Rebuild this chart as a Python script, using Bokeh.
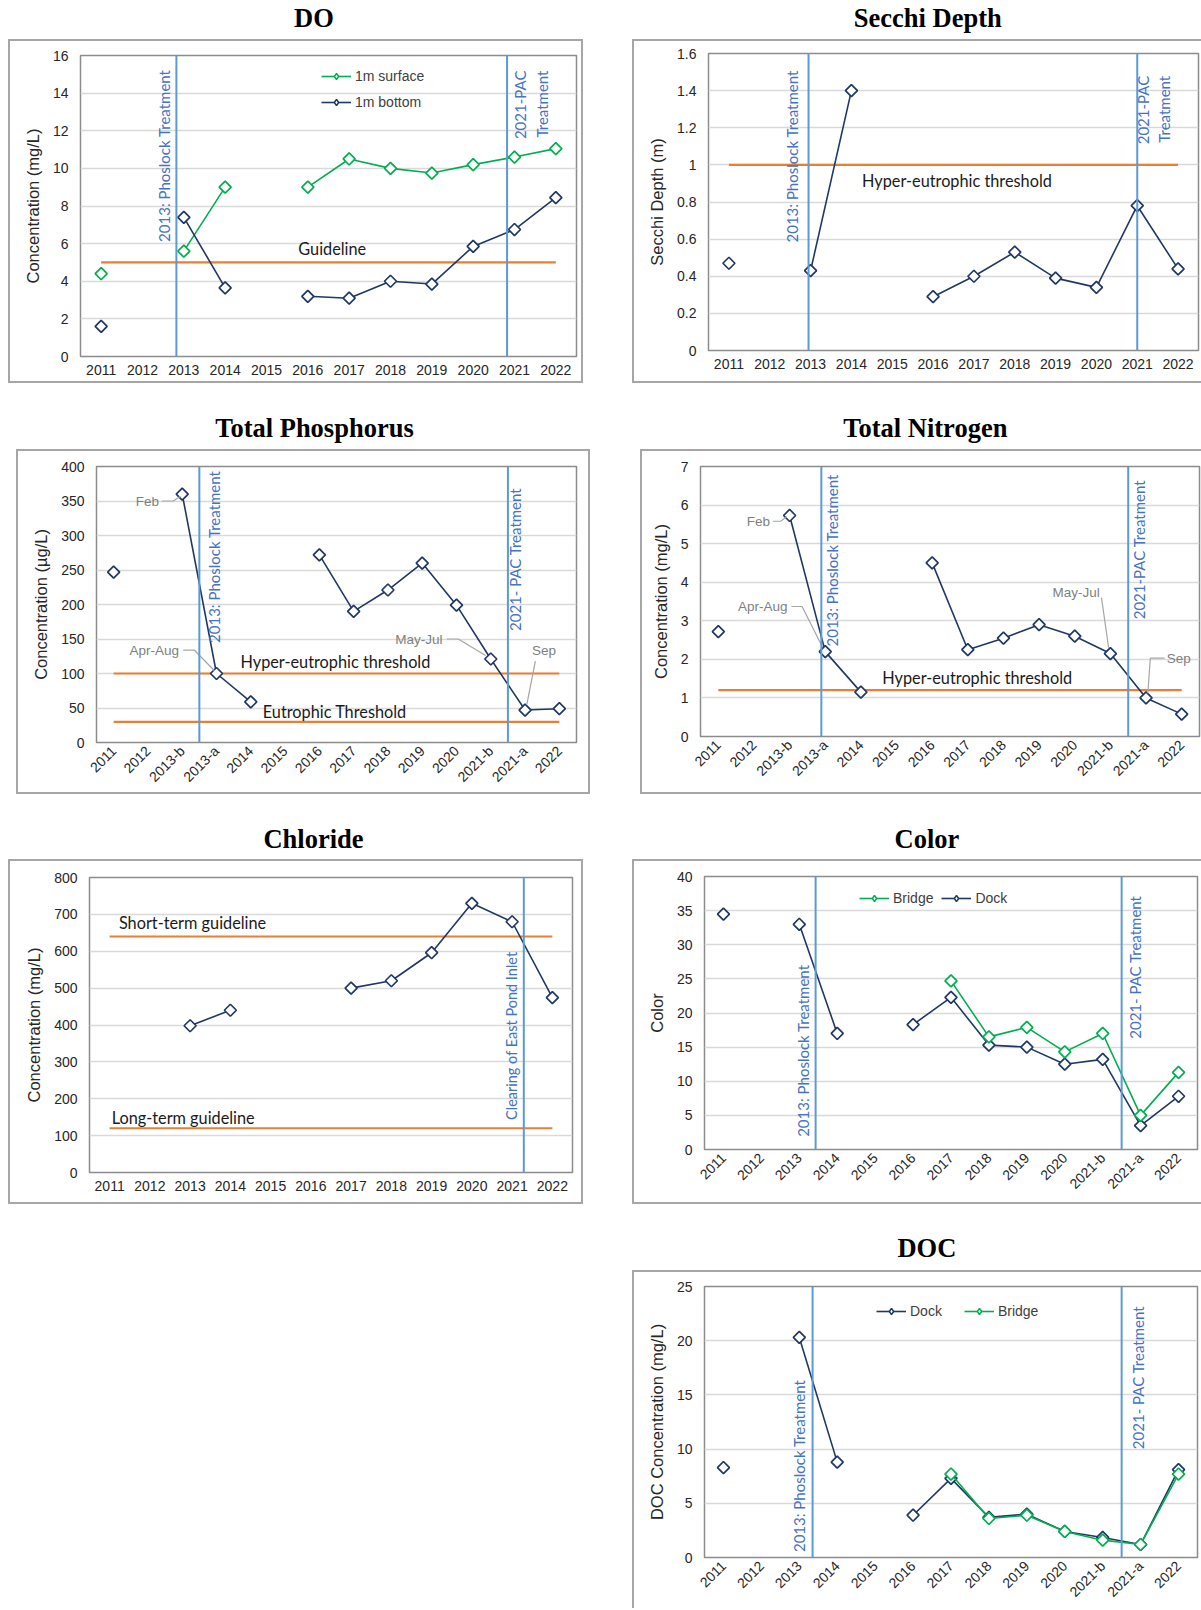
import math
from bokeh.plotting import figure
from bokeh.models import (FactorRange, Range1d, Span, Legend, LegendItem, FixedTicker,
                          Spacer, ColumnDataSource)
from bokeh.layouts import row, column
from bokeh.core.properties import value
from bokeh.embed import file_html
from bokeh.resources import INLINE

nan = float("nan")

# ---------------- data ----------------
YEARS = ["2011", "2012", "2013", "2014", "2015", "2016", "2017", "2018", "2019", "2020", "2021", "2022"]
SPLIT_CATS = ["2011", "2012", "2013-b", "2013-a", "2014", "2015", "2016", "2017", "2018", "2019",
              "2020", "2021-b", "2021-a", "2022"]
LATE_CATS = ["2011", "2012", "2013", "2014", "2015", "2016", "2017", "2018", "2019", "2020",
             "2021-b", "2021-a", "2022"]

DO_SURFACE = [4.4, nan, 5.6, 9.0, nan, 9.0, 10.5, 10.0, 9.75, 10.2, 10.6, 11.05]
DO_BOTTOM = [1.6, nan, 7.4, 3.65, nan, 3.2, 3.1, 4.0, 3.85, 5.85, 6.75, 8.45]
DO_GUIDELINE = 5.0
DO_TICKS = [0, 2, 4, 6, 8, 10, 12, 14, 16]

SECCHI = [0.47, nan, 0.43, 1.40, nan, 0.29, 0.40, 0.53, 0.39, 0.34, 0.78, 0.44]
SECCHI_THRESHOLD = 1.0
SECCHI_TICKS = [0, 0.2, 0.4, 0.6, 0.8, 1.0, 1.2, 1.4, 1.6]

TP = [247, nan, 360, 100, 59, nan, 272, 190, 221, 260, 199, 121, 47, 49]
TP_HYPER = 100
TP_EUTRO = 30
TP_TICKS = [0, 50, 100, 150, 200, 250, 300, 350, 400]

TN = [2.72, nan, 5.73, 2.2, 1.15, nan, 4.5, 2.25, 2.55, 2.9, 2.6, 2.15, 1.0, 0.58]
TN_HYPER = 1.2
TN_TICKS = [0, 1, 2, 3, 4, 5, 6, 7]

CHLORIDE = [nan, nan, 398, 440, nan, nan, 500, 520, 596, 730, 680, 474]
CL_SHORT = 640
CL_LONG = 120
CL_TICKS = [0, 100, 200, 300, 400, 500, 600, 700, 800]

COLOR_DOCK = [34.5, nan, 33.0, 17.0, nan, 18.3, 22.3, 15.3, 15.0, 12.5, 13.2, 3.5, 7.8]
COLOR_BRIDGE = [nan, nan, nan, nan, nan, nan, 24.7, 16.5, 17.9, 14.3, 17.0, 5.0, 11.3]
COLOR_TICKS = [0, 5, 10, 15, 20, 25, 30, 35, 40]

DOC_DOCK = [8.3, nan, 20.3, 8.8, nan, 3.9, 7.3, 3.7, 4.0, 2.4, 1.85, 1.2, 8.1]
DOC_BRIDGE = [nan, nan, nan, nan, nan, nan, 7.7, 3.6, 3.9, 2.4, 1.6, 1.2, 7.7]
DOC_TICKS = [0, 5, 10, 15, 20, 25]

# ---------------- style ----------------
NAVY = "#1F3864"
GREEN = "#00B050"
ORANGE = "#ED7D31"
VBLUE = "#5B9BD5"
TBLUE = "#4472C4"
GRAYTXT = "#7F7F7F"
BORDER = "2px solid #A6A6A6"
BW = 2


def pos(cats, name, off=0.0):
    return cats.index(name) + 0.5 + off


def chart(cats, box_w, box_h, l, r, t, b, ticks, ylabel, rotate=False,
          open_right=False, open_bottom=False):
    styles = {"border-left": BORDER, "border-top": BORDER,
              "border-right": "0px" if open_right else BORDER,
              "border-bottom": "0px" if open_bottom else BORDER}
    rb = 0 if open_right else BW
    bb = 0 if open_bottom else BW
    p = figure(x_range=FactorRange(factors=cats), y_range=Range1d(0, ticks[-1]),
               width=box_w, height=box_h,
               min_border_left=l - BW, min_border_right=r - rb,
               min_border_top=t - BW, min_border_bottom=b - bb,
               toolbar_location=None, output_backend="svg", styles=styles)
    p.outline_line_color = "#8C8C8C"
    p.outline_line_width = 1.5
    p.xgrid.grid_line_color = None
    p.ygrid.grid_line_color = "#D9D9D9"
    p.ygrid.grid_line_width = 1.5
    p.yaxis.ticker = FixedTicker(ticks=ticks)
    p.yaxis.major_label_overrides = {v: f"{v:g}" for v in ticks}
    for ax in (p.xaxis[0], p.yaxis[0]):
        ax.axis_line_color = None
        ax.major_tick_line_color = None
        ax.minor_tick_line_color = None
        ax.major_tick_out = 0
        ax.major_tick_in = 0
        ax.major_label_text_font = "Liberation Sans"
        ax.major_label_text_font_size = "14px"
        ax.major_label_text_color = "#262626"
    p.yaxis.axis_label = ylabel
    p.yaxis.axis_label_text_font = "Liberation Sans"
    p.yaxis.axis_label_text_font_size = "16.5px"
    p.yaxis.axis_label_text_font_style = "normal"
    p.yaxis.axis_label_text_color = "#262626"
    p.yaxis.axis_label_standoff = 8
    p.yaxis.major_label_standoff = 12
    p.xaxis.major_label_standoff = 8
    if rotate:
        p.xaxis.major_label_orientation = math.pi / 4
        p.xaxis.major_label_standoff = 6
    return p


def series(p, cats, vals, color):
    src = ColumnDataSource(dict(x=cats, y=vals))
    lr = p.line("x", "y", source=src, line_color=color, line_width=1.6)
    p.scatter("x", "y", source=src, marker="square", angle=math.pi / 4, size=8.5,
              line_color=color, line_width=1.7, fill_color="white")
    # hidden renderer used only as the legend key (small diamond)
    key = p.scatter("x", "y", source=src, marker="diamond", size=9,
                    line_color=color, line_width=1.5, fill_color="white", visible=False)
    return [lr, key]


def hline(p, cats, v):
    p.line(x=[cats[0], cats[-1]], y=[v, v], line_color=ORANGE, line_width=2.2)


def vline(p, loc):
    p.add_layout(Span(location=loc, dimension="height", line_color=VBLUE, line_width=2))


def vtext(p, x, ytop, txt, size="15px"):
    p.text(x=[x], y=[ytop], text=[txt], angle=math.pi / 2, text_align="right",
           text_baseline="middle", text_font=value("Lato"), text_font_size=size,
           text_color=TBLUE, text_line_height=1.2)


def label(p, x, y, txt, size="16.3px"):
    p.text(x=[x], y=[y], text=[txt], text_align="left", text_baseline="middle",
           text_font=value("Lato"), text_font_size=size, text_color="#1A1A1A")


def callout(p, x, y, txt, align, xs, ys):
    p.line(x=xs, y=ys, line_color="#A6A6A6", line_width=1.2)
    p.text(x=[x], y=[y], text=[txt], text_align=align, text_baseline="middle",
           text_font=value("Liberation Sans"), text_font_size="13.5px", text_color=GRAYTXT)


def legend(p, items, loc, orientation="vertical", spacing=10):
    lg = Legend(items=[LegendItem(label=n, renderers=r) for n, r in items], location=loc,
                orientation=orientation, background_fill_alpha=0, border_line_color=None,
                padding=0, margin=0, spacing=spacing, glyph_width=30, glyph_height=16,
                label_standoff=4, label_text_font="Liberation Sans",
                label_text_font_size="14px", label_text_color="#404040",
                inactive_fill_alpha=0, click_policy="none")
    p.add_layout(lg)


def title_fig(w, h, cx, cy_top, txt):
    p = figure(width=w, height=h, x_range=Range1d(0, w), y_range=Range1d(0, h),
               toolbar_location=None, output_backend="svg", min_border=0,
               x_axis_location=None, y_axis_location=None)
    p.grid.visible = False
    p.outline_line_color = None
    p.text(x=[cx], y=[h - cy_top], text=[txt], text_align="center", text_baseline="middle",
           text_font=value("Liberation Serif"), text_font_style="bold",
           text_font_size="26.5px", text_color="black")
    return p


# ---------------- DO ----------------
do = chart(YEARS, 575, 344, 72, 11, 16, 31, DO_TICKS, "Concentration (mg/L)")
hline(do, YEARS, DO_GUIDELINE)
vline(do, pos(YEARS, "2013", -0.18))
vline(do, pos(YEARS, "2021", -0.18))
r_surf = series(do, YEARS, DO_SURFACE, GREEN)
r_bot = series(do, YEARS, DO_BOTTOM, NAVY)
vtext(do, pos(YEARS, "2013", -0.48), 15.25, "2013: Phoslock Treatment")
vtext(do, pos(YEARS, "2021", 0.4), 15.2, "2021-PAC\nTreatment")
label(do, pos(YEARS, "2016", -0.23), 5.75, "Guideline")
legend(do, [("1m surface", r_surf), ("1m bottom", r_bot)], (241, 246))

# ---------------- Secchi ----------------
sd = chart(YEARS, 569, 344, 76, 5, 14, 37, SECCHI_TICKS, "Secchi Depth (m)", open_right=True)
hline(sd, YEARS, SECCHI_THRESHOLD)
vline(sd, pos(YEARS, "2013", -0.05))
vline(sd, pos(YEARS, "2021", 0.0))
series(sd, YEARS, SECCHI, NAVY)
vtext(sd, pos(YEARS, "2013", -0.45), 1.51, "2013: Phoslock Treatment")
vtext(sd, pos(YEARS, "2021", 0.4), 1.48, "2021-PAC\nTreatment")
label(sd, pos(YEARS, "2014", 0.26), 0.914, "Hyper-eutrophic threshold")

# ---------------- Total Phosphorus ----------------
C = SPLIT_CATS
tp = chart(C, 574, 345, 80, 18, 17, 56, TP_TICKS, "Concentration (µg/L)", rotate=True)
hline(tp, C, TP_HYPER)
hline(tp, C, TP_EUTRO)
vline(tp, C.index("2013-a"))
vline(tp, C.index("2021-a"))
series(tp, C, TP, NAVY)
vtext(tp, pos(C, "2013-a", -0.06), 394, "2013: Phoslock Treatment")
vtext(tp, pos(C, "2021-a", -0.28), 369, "2021- PAC Treatment")
label(tp, pos(C, "2014", -0.3), 117.6, "Hyper-eutrophic threshold")
label(tp, pos(C, "2014", 0.35), 45, "Eutrophic Threshold")
callout(tp, pos(C, "2013-b", -0.68), 350, "Feb", "right",
        [pos(C, "2013-b", -0.59), pos(C, "2013-b", -0.26), pos(C, "2013-b", -0.05)], [350, 350, 357])
callout(tp, pos(C, "2013-b", -0.09), 134, "Apr-Aug", "right",
        [pos(C, "2013-b", 0.03), pos(C, "2013-b", 0.35), pos(C, "2013-a", -0.06)], [134, 134, 104])
callout(tp, pos(C, "2020", -0.41), 150, "May-Jul", "right",
        [pos(C, "2020", -0.28), pos(C, "2020", 0.05), pos(C, "2021-b", -0.15)], [150, 150, 126])
callout(tp, pos(C, "2021-a", 0.2), 134, "Sep", "left",
        [pos(C, "2021-a", 0.3), pos(C, "2021-a", 0.05)], [118, 55])

# ---------------- Total Nitrogen ----------------
tn = chart(C, 561, 345, 60, 4, 17, 62, TN_TICKS, "Concentration (mg/L)", rotate=True,
           open_right=True)
hline(tn, C, TN_HYPER)
vline(tn, pos(C, "2013-a", -0.11))
vline(tn, C.index("2021-a"))
series(tn, C, TN, NAVY)
vtext(tn, pos(C, "2013-a", 0.2), 6.8, "2013: Phoslock Treatment")
vtext(tn, pos(C, "2021-a", -0.2), 6.65, "2021-PAC Treatment")
label(tn, pos(C, "2015", -0.4), 1.53, "Hyper-eutrophic threshold")
callout(tn, pos(C, "2013-b", -0.55), 5.58, "Feb", "right",
        [pos(C, "2013-b", -0.47), pos(C, "2013-b", -0.25), pos(C, "2013-b", -0.08)], [5.58, 5.58, 5.7])
callout(tn, pos(C, "2013-b", -0.06), 3.37, "Apr-Aug", "right",
        [pos(C, "2013-b", 0.05), pos(C, "2013-b", 0.35), pos(C, "2013-a", -0.08)], [3.37, 3.37, 2.32])
callout(tn, pos(C, "2021-b", -0.3), 3.74, "May-Jul", "right",
        [pos(C, "2021-b", -0.25), pos(C, "2021-b", -0.05)], [3.6, 2.3])
callout(tn, pos(C, "2021-a", 0.58), 2.03, "Sep", "left",
        [pos(C, "2021-a", 0.52), pos(C, "2021-a", 0.12), pos(C, "2021-a", 0.05)], [2.03, 2.03, 1.12])

# ---------------- Chloride ----------------
cl = chart(YEARS, 575, 345, 81, 15, 18, 36, CL_TICKS, "Concentration (mg/L)")
hline(cl, YEARS, CL_SHORT)
hline(cl, YEARS, CL_LONG)
vline(cl, pos(YEARS, "2021", 0.29))
series(cl, YEARS, CHLORIDE, NAVY)
vtext(cl, pos(YEARS, "2021", -0.02), 599, "Clearing of East Pond Inlet", "14.5px")
label(cl, pos(YEARS, "2011", 0.23), 679, "Short-term guideline")
label(cl, pos(YEARS, "2011", 0.05), 148, "Long-term guideline")

# ---------------- Color ----------------
L = LATE_CATS
co = chart(L, 569, 345, 72, 6, 17, 59, COLOR_TICKS, "Color", rotate=True, open_right=True)
vline(co, pos(L, "2013", 0.43))
vline(co, L.index("2021-a"))
r_cd = series(co, L, COLOR_DOCK, NAVY)
r_cb = series(co, L, COLOR_BRIDGE, GREEN)
vtext(co, pos(L, "2013", 0.1), 27.1, "2013: Phoslock Treatment")
vtext(co, pos(L, "2021-a", -0.15), 37.2, "2021- PAC Treatment")
legend(co, [("Bridge", r_cb), ("Dock", r_cd)], (155, 243), "horizontal", 8)

# ---------------- DOC ----------------
dc = chart(L, 569, 338, 72, 6, 16, 53, DOC_TICKS, "DOC Concentration (mg/L)", rotate=True,
           open_right=True, open_bottom=True)
vline(dc, pos(L, "2013", 0.35))
vline(dc, L.index("2021-a"))
r_dd = series(dc, L, DOC_DOCK, NAVY)
r_db = series(dc, L, DOC_BRIDGE, GREEN)
vtext(dc, pos(L, "2013", 0.0), 16.4, "2013: Phoslock Treatment")
vtext(dc, pos(L, "2021-a", -0.07), 23.2, "2021- PAC Treatment")
legend(dc, [("Dock", r_dd), ("Bridge", r_db)], (172, 238), "horizontal", 22)

# ---------------- layout ----------------
LC = 313 - 34   # title centre, left column (page x)
RC = 927 - 36   # title centre, right column (page x)
row1 = row(Spacer(width=8, height=10),
           column(title_fig(575, 39, LC - 8 + 2, 17.5, "DO"), do),
           Spacer(width=49, height=10),
           column(title_fig(569, 39, RC - 632 - 2, 17.5, "Secchi Depth"), sd))
row2 = row(Spacer(width=16, height=10),
           column(title_fig(574, 66, LC - 16, 44, "Total Phosphorus"), tp),
           Spacer(width=50, height=10),
           column(title_fig(561, 66, RC - 640 + 4, 44, "Total Nitrogen"), tn))
row3 = row(Spacer(width=8, height=10),
           column(title_fig(575, 65, LC - 8 - 2, 44, "Chloride"), cl),
           Spacer(width=49, height=10),
           column(title_fig(569, 65, RC - 632, 44, "Color"), co))
row4 = row(Spacer(width=632, height=10),
           column(title_fig(569, 66, RC - 632, 43, "DOC"), dc))

page = column(row1, row2, row3, row4)
open("out.html", "w").write(file_html(page, INLINE))
